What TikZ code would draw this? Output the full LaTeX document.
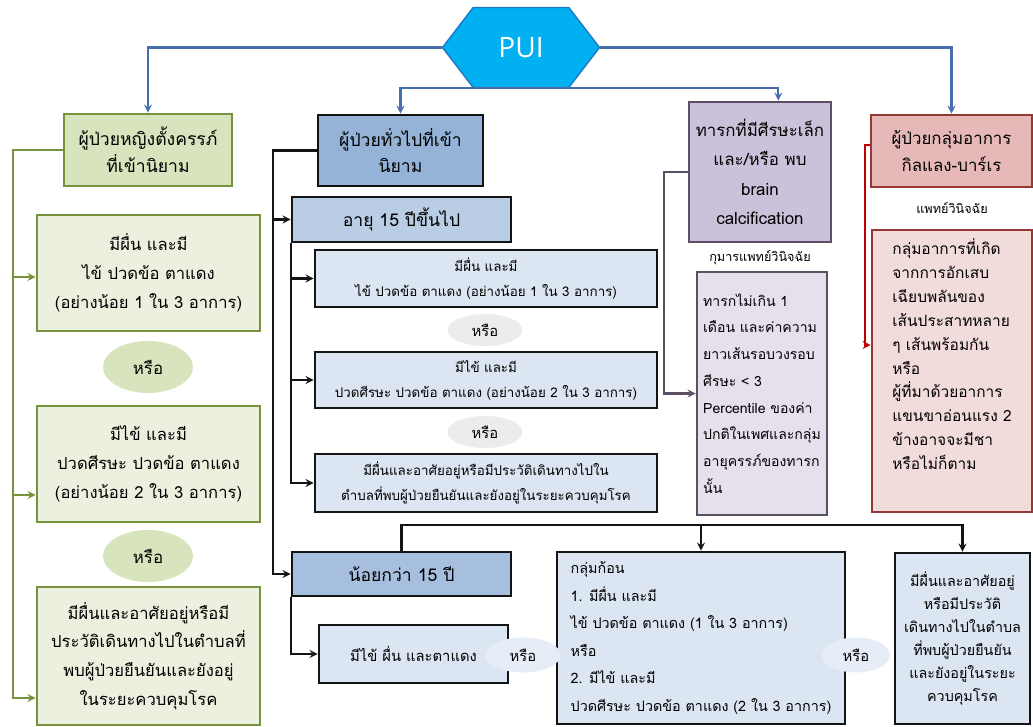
\documentclass[tikz,border=0pt]{standalone}
\usepackage{fontspec}
\newfontfamily\thaifont[Script=Thai]{Loma}
\newfontfamily\puifont{Open Sans}
\usetikzlibrary{shapes.geometric,shapes.symbols}

\definecolor{hexblue}{RGB}{0,176,240}
\definecolor{hexedge}{RGB}{30,120,200}
\definecolor{linkblue}{RGB}{70,110,170}
\definecolor{grnedge}{RGB}{119,147,60}
\definecolor{grnfill}{RGB}{215,228,189}
\definecolor{grnlight}{RGB}{235,241,222}
\definecolor{bluhead}{RGB}{149,179,215}
\definecolor{blumid}{RGB}{185,205,229}
\definecolor{blulow}{RGB}{167,191,222}
\definecolor{blulight}{RGB}{220,230,242}
\definecolor{orgray}{RGB}{236,236,236}
\definecolor{purfill}{RGB}{204,193,218}
\definecolor{purlight}{RGB}{229,224,236}
\definecolor{puredge}{RGB}{90,80,100}
\definecolor{redfill}{RGB}{230,185,184}
\definecolor{redlight}{RGB}{242,220,219}
\definecolor{rededge}{RGB}{149,55,53}
\definecolor{redlink}{RGB}{192,0,0}
\definecolor{darkedge}{RGB}{20,20,20}

\tikzstyle{greenhead}=[rectangle,draw=grnedge,fill=grnfill,line width=2pt,align=center,font=\thaifont\fontsize{12.5}{19}\selectfont]
\tikzstyle{greenbox}=[rectangle,draw=grnedge,fill=grnlight,line width=2pt,align=center,minimum width=5.575cm,font=\thaifont\fontsize{11.8}{20.5}\selectfont]
\tikzstyle{greenor}=[ellipse,fill=grnfill,minimum width=2.25cm,minimum height=1.3cm,font=\thaifont\fontsize{12}{15}\selectfont]
\tikzstyle{bluehead}=[rectangle,draw=darkedge,fill=bluhead,line width=2pt,align=center,font=\thaifont\fontsize{12.5}{19}\selectfont]
\tikzstyle{agebox}=[rectangle,draw=darkedge,line width=2pt,minimum width=5.475cm,font=\thaifont\fontsize{12.5}{16}\selectfont]
\tikzstyle{bluesub}=[rectangle,draw=darkedge,fill=blulight,line width=2pt,align=center,font=\thaifont\fontsize{9.5}{17.8}\selectfont]
\tikzstyle{grayor}=[ellipse,fill=orgray,minimum width=1.875cm,minimum height=0.8cm,font=\thaifont\fontsize{10.5}{14}\selectfont]
\tikzstyle{lightor}=[ellipse,fill=blulight!70!white,minimum height=0.875cm,font=\thaifont\fontsize{10.5}{14}\selectfont]
\tikzstyle{purplehead}=[rectangle,draw=puredge,fill=purfill,line width=2pt,align=center,font=\thaifont\fontsize{12}{21}\selectfont]
\tikzstyle{purplesub}=[rectangle,draw=puredge,fill=purlight,line width=2pt,align=left,font=\thaifont\fontsize{10}{19}\selectfont]
\tikzstyle{redhead}=[rectangle,draw=rededge,fill=redfill,line width=2pt,align=center,font=\thaifont\fontsize{12}{19.5}\selectfont]
\tikzstyle{redsub}=[rectangle,draw=rededge,fill=redlight,line width=2pt,align=left,font=\thaifont\fontsize{11}{17}\selectfont]
\tikzstyle{note}=[font=\thaifont\fontsize{9}{11}\selectfont]
\tikzstyle{tline}=[draw=linkblue,line width=1.5pt]
\tikzstyle{gline}=[draw=grnedge,line width=1.5pt]
\tikzstyle{bline}=[draw=darkedge,line width=1.5pt]
\tikzstyle{pline}=[draw=puredge,line width=1.5pt]
\tikzstyle{rline}=[draw=redlink,line width=1.5pt]

\begin{document}
\begin{tikzpicture}[x=0.025cm,y=-0.025cm,>=stealth]
                  \useasboundingbox (0,0) rectangle (1033,727);

                  \node (pui) at (521,47.5) [signal,signal to=east and west,signal pointer angle=105,draw=hexedge,fill=hexblue,line width=1pt,minimum width=3.925cm,minimum height=2cm,text=white,font=\puifont\fontsize{20}{24}\selectfont] {PUI};

                  \node (g1) at (148,150) [greenhead,minimum width=4.2cm,minimum height=1.8cm] {ผู้ป่วยหญิงตั้งครรภ์\\ที่เข้านิยาม};
                  \node (g2) at (148.5,273) [greenbox,minimum height=2.9cm] {มีผื่น และมี\\ไข้ ปวดข้อ ตาแดง\\(อย่างน้อย 1 ใน 3 อาการ)};
                  \node (go1) at (148,367) [greenor] {หรือ};
                  \node (g3) at (148.5,464) [greenbox,minimum height=2.9cm] {มีไข้ และมี\\ปวดศีรษะ ปวดข้อ ตาแดง\\(อย่างน้อย 2 ใน 3 อาการ)};
                  \node (go2) at (148,556) [greenor] {หรือ};
                  \node (g4) at (148.5,656) [greenbox,minimum height=3.45cm] {มีผื่นและอาศัยอยู่หรือมี\\ประวัติเดินทางไปในตำบลที่\\พบผู้ป่วยยืนยันและยังอยู่\\ในระยะควบคุมโรค};

                  \node (b1) at (400.5,150.5) [bluehead,minimum width=4.125cm,minimum height=1.775cm] {ผู้ป่วยทั่วไปที่เข้า\\นิยาม};
                  \node (b2) at (401.5,219.5) [agebox,fill=blumid,minimum height=1.125cm] {อายุ 15 ปีขึ้นไป};
                  \node (s1) at (486,278.5) [bluesub,minimum width=8.55cm,minimum height=1.425cm] {มีผื่น และมี\\ไข้ ปวดข้อ ตาแดง (อย่างน้อย 1 ใน 3 อาการ)};
                  \node (so1) at (485,330) [grayor] {หรือ};
                  \node (s2) at (486,380) [bluesub,minimum width=8.55cm,minimum height=1.4cm] {มีไข้ และมี\\ปวดศีรษะ ปวดข้อ ตาแดง (อย่างน้อย 2 ใน 3 อาการ)};
                  \node (so2) at (485,432) [grayor] {หรือ};
                  \node (s3) at (486,483) [bluesub,minimum width=8.55cm,minimum height=1.45cm] {มีผื่นและอาศัยอยู่หรือมีประวัติเดินทางไปใน\\ตำบลที่พบผู้ป่วยยืนยันและยังอยู่ในระยะควบคุมโรค};
                  \node (b3) at (401.5,574) [agebox,fill=blulow,minimum height=1.1cm] {น้อยกว่า 15 ปี};
                  \node (s4) at (413.5,654) [bluesub,minimum width=4.725cm,minimum height=1.45cm,font=\thaifont\fontsize{10.5}{14}\selectfont] {มีไข้ ผื่น และตาแดง};
                  \node (s5) at (701,638) [bluesub,align=left,minimum width=7.2cm,minimum height=4.3cm,font=\thaifont\fontsize{10.2}{19.5}\selectfont] {กลุ่มก้อน\\1. มีผื่น และมี\\ไข้ ปวดข้อ ตาแดง (1 ใน 3 อาการ)\\หรือ\\2. มีไข้ และมี\\ปวดศีรษะ ปวดข้อ ตาแดง (2 ใน 3 อาการ)};
                  \node (s6) at (962.5,638.5) [bluesub,minimum width=3.375cm,minimum height=4.275cm,font=\thaifont\fontsize{10.2}{16.4}\selectfont] {มีผื่นและอาศัยอยู่\\หรือมีประวัติ\\เดินทางไปในตำบล\\ที่พบผู้ป่วยยืนยัน\\และยังอยู่ในระยะ\\ควบคุมโรค};
                  \node (so3) at (523,655) [lightor,minimum width=1.875cm] {หรือ};
                  \node (so4) at (856,655) [lightor,minimum width=1.7cm] {หรือ};

                  \node (p1) at (760,172) [purplehead,minimum width=3.55cm,minimum height=3.5cm] {ทารกที่มีศีรษะเล็ก\\และ/หรือ พบ\\brain\\calcification};
                  \node (pl) at (760,258) [note] {กุมารแพทย์วินิจฉัย};
                  \node (p2) at (762,393.5) [purplesub,minimum width=3.25cm,minimum height=6.075cm] {ทารกไม่เกิน 1\\เดือน และค่าความ\\ยาวเส้นรอบวงรอบ\\ศีรษะ < 3\\Percentile ของค่า\\ปกติในเพศและกลุ่ม\\อายุครรภ์ของทารก\\นั้น};

                  \node (r1) at (951.5,151) [redhead,minimum width=4.025cm,minimum height=1.8cm] {ผู้ป่วยกลุ่มอาการ\\กิลแลง-บาร์เร};
                  \node (rl) at (952,208) [note] {แพทย์วินิจฉัย};
                  \node (r2) at (952,371) [redsub,minimum width=4cm,minimum height=7.05cm] {กลุ่มอาการที่เกิด\\จากการอักเสบ\\เฉียบพลันของ\\เส้นประสาทหลาย\\ๆ เส้นพร้อมกัน\\หรือ\\ผู้ที่มาด้วยอาการ\\แขนขาอ่อนแรง 2\\ข้างอาจจะมีชา\\หรือไม่ก็ตาม\\[7pt]\mbox{}};

                  \draw [tline,->] (pui.west) -| (g1.north);
                  \draw [tline,->] (pui.east) -| (r1.north);
                  \draw [tline,<->] (b1.north) |- (pui.south) -| ([xshift=13pt]p1.north);

                  \coordinate (gs) at (13,150);
                  \coordinate (ga2) at (13,277);
                  \coordinate (ga3) at (13,495);
                  \coordinate (ga4) at (13,698);
                  \draw [gline,->] (g1.west) -- (gs) -- (ga4) -- (ga4 -| g4.west);
                  \draw [gline,->] (ga2) -- (ga2 -| g2.west);
                  \draw [gline,->] (ga3) -- (ga3 -| g3.west);

                  \coordinate (bs) at (273,574);
                  \draw [bline,->] (b1.west) -| (bs) -- (b3.west);
                  \draw [bline,->] (bs |- b2.west) -- (b2.west);
                  \draw [bline,->] (b2.south west) |- (s3.west);
                  \draw [bline,->] (b2.south west |- s1.west) -- (s1.west);
                  \draw [bline,->] (b2.south west |- s2.west) -- (s2.west);
                  \draw [bline,->] (b3.south west) |- (s4.west);
                  \coordinate (bb) at (401.5,525);
                  \draw [bline,->] (b3.north) -- (bb) -| (s6.north);
                  \draw [bline,->] (bb -| s5.north) -- (s5.north);

                  \coordinate (pc) at (664,393.5);
                  \draw [pline,->] (p1.west) -| (pc) -- (p2.west);

                  \coordinate (rc) at (865,345);
                  \draw [rline,->] ([yshift=4pt]r1.west) -| (rc) -- (rc -| r2.west);
              \end{tikzpicture}
\end{document}
